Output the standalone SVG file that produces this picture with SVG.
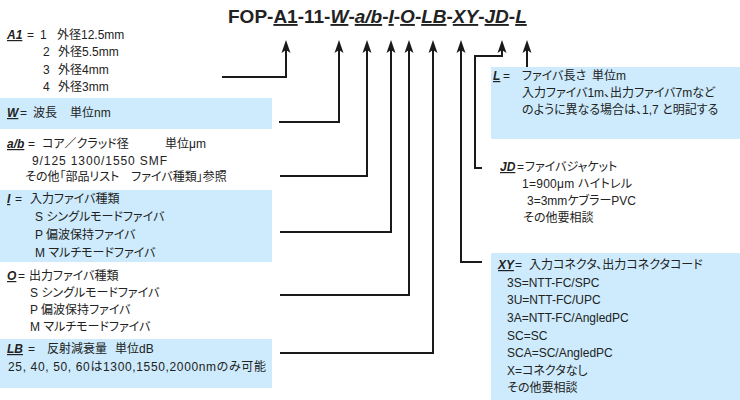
<svg xmlns="http://www.w3.org/2000/svg" xmlns:xlink="http://www.w3.org/1999/xlink" width="740" height="400" viewBox="0 0 740 400">
<style>
text{font-family:"Liberation Sans","Noto Sans CJK JP",sans-serif;font-size:12px;fill:#222;font-feature-settings:"palt";}
.k{font-weight:bold;font-style:italic;text-decoration:underline;}
.t{font-size:19px;font-weight:bold;}
.u{text-decoration:underline;}
.box{fill:#cdebfc;}
.c{fill:none;stroke:#1a1a1a;stroke-width:2;}
</style>
<defs>
<path id="ah" d="M0,0 L4.5,13 L0,10 L-4.5,13 Z" fill="#1a1a1a"/>
</defs>
<rect width="740" height="400" fill="#fff"/>
<g id="title">
<text class="t" x="228" y="23">FOP-<tspan class="u">A1</tspan>-11-<tspan class="k">W</tspan>-<tspan class="k">a/b</tspan>-<tspan class="k">I</tspan>-<tspan class="k">O</tspan>-<tspan class="k">LB</tspan>-<tspan class="k">XY</tspan>-<tspan class="k">JD</tspan>-<tspan class="k">L</tspan></text>
</g>
<g id="node-A1">
<text class="k" x="7" y="39">A1</text><text x="27" y="39">=</text>
<text x="40" y="39">1</text><text x="57" y="39">外径12.5mm</text>
<text x="43" y="56">2</text><text x="58" y="56">外径5.5mm</text>
<text x="43" y="74">3</text><text x="58" y="74">外径4mm</text>
<text x="43" y="91">4</text><text x="58" y="91">外径3mm</text>
</g>
<g id="node-W">
<rect class="box" x="0" y="98" width="272" height="31"/>
<text class="k" x="7" y="117">W</text><text x="20" y="117">=</text>
<text x="33" y="117">波長</text><text x="70" y="117">単位nm</text>
</g>
<g id="node-ab">
<text class="k" x="7" y="148">a/b</text><text x="28" y="148">=</text>
<text x="42" y="148">コア／クラッド径</text><text x="165" y="148">単位μm</text>
<text x="32" y="165" textLength="135" lengthAdjust="spacing">9/125 1300/1550 SMF</text>
<text x="25" y="181">その他「部品リスト　ファイバ種類」参照</text>
</g>
<g id="node-I">
<rect class="box" x="0" y="190" width="272" height="72"/>
<text class="k" x="7" y="203">I</text><text x="15" y="203">=</text>
<text x="30" y="203">入力ファイバ種類</text>
<text x="35" y="221">S シングルモードファイバ</text>
<text x="35" y="239">P 偏波保持ファイバ</text>
<text x="35" y="257">M マルチモードファイバ</text>
</g>
<g id="node-O">
<text class="k" x="7" y="280">O</text><text x="18" y="280">=</text>
<text x="29" y="280">出力ファイバ種類</text>
<text x="30" y="297">S シングルモードファイバ</text>
<text x="30" y="314">P 偏波保持ファイバ</text>
<text x="30" y="331">M マルチモードファイバ</text>
</g>
<g id="node-LB">
<rect class="box" x="0" y="339" width="272" height="49"/>
<text class="k" x="7" y="353">LB</text><text x="28" y="353">=</text>
<text x="47" y="353">反射減衰量</text><text x="115" y="353">単位dB</text>
<text x="8" y="371" textLength="258" lengthAdjust="spacing">25, 40, 50, 60は1300,1550,2000nmのみ可能</text>
</g>
<g id="node-L">
<rect class="box" x="491" y="67" width="249" height="72"/>
<text class="k" x="493" y="80">L</text><text x="503" y="80">=</text>
<text x="522" y="80">ファイバ長さ</text><text x="592" y="80">単位m</text>
<text x="522" y="97">入力ファイバ1m、出力ファイバ7mなど</text>
<text x="522" y="114">のように異なる場合は、1,7 と明記する</text>
</g>
<g id="node-JD">
<text class="k" x="500" y="171">JD</text><text x="517" y="171">=</text>
<text x="525" y="171">ファイバジャケット</text>
<text x="522" y="188" textLength="110" lengthAdjust="spacing">1=900μm ハイトレル</text>
<text x="527" y="205">3=3mmケブラーPVC</text>
<text x="523" y="222">その他要相談</text>
</g>
<g id="node-XY">
<rect class="box" x="491" y="253" width="249" height="147"/>
<text class="k" x="498" y="269">XY</text><text x="515" y="269">=</text>
<text x="529" y="269">入力コネクタ、出力コネクタコード</text>
<text x="507" y="287">3S=NTT-FC/SPC</text>
<text x="507" y="304">3U=NTT-FC/UPC</text>
<text x="507" y="322">3A=NTT-FC/AngledPC</text>
<text x="507" y="340">SC=SC</text>
<text x="507" y="357">SCA=SC/AngledPC</text>
<text x="507" y="375">X=コネクタなし</text>
<text x="507" y="392">その他要相談</text>
</g>
<g id="connectors">
<polyline class="c" points="222,77 286,77 286,48"/>
<polyline class="c" points="279,122 339,122 339,48"/>
<polyline class="c" points="280,176 367,176 367,48"/>
<polyline class="c" points="280,232 391,232 391,48"/>
<polyline class="c" points="280,295 409,295 409,48"/>
<polyline class="c" points="280,353 433,353 433,48"/>
<polyline class="c" points="482,262 461,262 461,48"/>
<polyline class="c" points="482,168 475,168 475,56 502,56 502,48"/>
<polyline class="c" points="527,67 527,48"/>
<use xlink:href="#ah" x="286" y="40"/>
<use xlink:href="#ah" x="339" y="40"/>
<use xlink:href="#ah" x="367" y="40"/>
<use xlink:href="#ah" x="391" y="40"/>
<use xlink:href="#ah" x="409" y="40"/>
<use xlink:href="#ah" x="433" y="40"/>
<use xlink:href="#ah" x="461" y="40"/>
<use xlink:href="#ah" x="502" y="40"/>
<use xlink:href="#ah" x="527" y="40"/>
</g>
</svg>
